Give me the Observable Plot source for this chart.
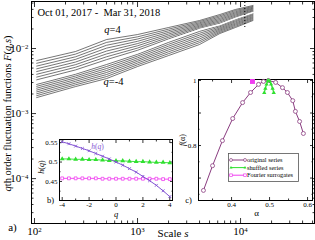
<!DOCTYPE html>
<html><head><meta charset="utf-8">
<script src="https://cdn.jsdelivr.net/npm/d3@7"></script>
<script src="https://cdn.jsdelivr.net/npm/@observablehq/plot@0.6"></script>
<style>
body{margin:0;background:#fff}
#wrap{position:relative;width:315px;height:240px;overflow:hidden}
#wrap svg{position:absolute;left:0;top:0}
</style></head><body><div id="wrap"></div>
<script>
// ---------- panel a) : fluctuation functions ----------
const scalesS = [105, 250, 500, 1000, 2000, 4000, 6300, 8900, 13200];
const qLines = [-4,-3.5,-3,-2.5,-2,-1.5,-1,-0.5,0,0.5,1,1.5,2,2.5,3,3.5,4];
const logF = [
  [-2.754,-2.585,-2.462,-2.277,-2.108,-1.938,-1.769,-1.677,-1.569],
  [-2.725,-2.558,-2.431,-2.250,-2.079,-1.909,-1.752,-1.660,-1.554],
  [-2.696,-2.531,-2.400,-2.223,-2.050,-1.881,-1.734,-1.642,-1.538],
  [-2.667,-2.504,-2.369,-2.196,-2.021,-1.852,-1.717,-1.625,-1.523],
  [-2.639,-2.477,-2.339,-2.170,-1.993,-1.823,-1.700,-1.608,-1.508],
  [-2.610,-2.450,-2.308,-2.143,-1.964,-1.794,-1.683,-1.590,-1.492],
  [-2.581,-2.423,-2.277,-2.116,-1.935,-1.766,-1.665,-1.573,-1.477],
  [-2.552,-2.396,-2.246,-2.089,-1.906,-1.737,-1.648,-1.555,-1.461],
  [-2.523,-2.369,-2.215,-2.062,-1.877,-1.708,-1.631,-1.538,-1.446],
  [-2.481,-2.329,-2.171,-2.027,-1.852,-1.691,-1.612,-1.521,-1.433],
  [-2.439,-2.288,-2.127,-1.993,-1.827,-1.673,-1.592,-1.504,-1.419],
  [-2.396,-2.248,-2.083,-1.958,-1.802,-1.656,-1.573,-1.486,-1.406],
  [-2.354,-2.208,-2.039,-1.924,-1.777,-1.639,-1.554,-1.469,-1.392],
  [-2.312,-2.167,-1.994,-1.889,-1.752,-1.621,-1.535,-1.452,-1.379],
  [-2.270,-2.127,-1.950,-1.854,-1.727,-1.604,-1.515,-1.435,-1.365],
  [-2.227,-2.086,-1.906,-1.820,-1.702,-1.586,-1.496,-1.417,-1.352],
  [-2.185,-2.046,-1.862,-1.785,-1.677,-1.569,-1.477,-1.400,-1.338]
];
const dottedScale = [11000];
const dottedF = [0.051, 0.021];
const xTicksMain = [100, 1000, 10000];
const yTicksMain = [1e-4, 1e-3, 1e-2];

// ---------- panel b) : h(q) ----------
const qVals = [-4,-3.5,-3,-2.5,-2,-1.5,-1,-0.5,0,0.5,1,1.5,2,2.5,3,3.5,4];
const hOrig = [0.552,0.547,0.541,0.535,0.529,0.522,0.515,0.508,0.500,0.492,0.483,0.474,0.463,0.452,0.440,0.426,0.411];
const hShuf = [0.508,0.508,0.507,0.507,0.506,0.506,0.505,0.504,0.503,0.503,0.502,0.501,0.501,0.500,0.499,0.499,0.498];
const hFour = [0.458,0.458,0.458,0.458,0.458,0.458,0.457,0.457,0.457,0.457,0.457,0.457,0.457,0.457,0.457,0.456,0.456];
const bXTicks = [-4,-2,0,2,4];
const bYTicks = [0.45, 0.5, 0.55];

// ---------- panel c) : f(alpha) ----------
const alphaOrig = [0.326,0.350,0.376,0.403,0.429,0.450,0.471,0.484,0.497,0.516,0.534,0.547,0.561,0.568,0.579,0.589];
const fOrig     = [0.662,0.738,0.815,0.883,0.932,0.963,0.988,0.997,1.000,0.994,0.978,0.963,0.938,0.905,0.874,0.837];
const alphaShuf = [0.486,0.489,0.492,0.496,0.500,0.504,0.508,0.511];
const fShuf     = [0.962,0.975,0.988,1.000,0.998,0.988,0.975,0.962];
const alphaFour = [0.455];
const fFour     = [0.997];
const cXTicks = [0.4, 0.5, 0.6];
const cYTicks = [0.8, 1.0];
const legendLabels = ["original series", "shuffled series", "Fourier surrogates"];

const cPurple = "#8a3c80", cViolet = "#8455d4", cGreen = "#2fe02f", cMagenta = "#f03cf0";
const FONT = "Liberation Serif, Times New Roman, serif";

// ---------- helpers ----------
function frameTicks(xMaj, xMin, yMaj, yMin, L, l) {
  const o = {fill: "none", label: null, strokeWidth: 0.8};
  return [
    Plot.axisX(xMaj, {...o, anchor: "bottom", tickSize: -L}),
    Plot.axisX(xMin, {...o, anchor: "bottom", tickSize: -l}),
    Plot.axisX(xMaj, {...o, anchor: "top", tickSize: -L}),
    Plot.axisX(xMin, {...o, anchor: "top", tickSize: -l}),
    Plot.axisY(yMaj, {...o, anchor: "left", tickSize: -L}),
    Plot.axisY(yMin, {...o, anchor: "left", tickSize: -l}),
    Plot.axisY(yMaj, {...o, anchor: "right", tickSize: -L}),
    Plot.axisY(yMin, {...o, anchor: "right", tickSize: -l})
  ];
}
function rich(svg, str, parts) {
  d3.select(svg).selectAll("text").filter(function () { return this.textContent === str && !this.querySelector("tspan"); })
    .each(function () {
      const el = d3.select(this); el.text("");
      parts.forEach(([t, it]) => { const ts = el.append("tspan").text(t); if (it) ts.attr("font-style", "italic"); });
    });
}
function supers(svg) {
  d3.select(svg).selectAll("text").each(function () {
    const m = this.textContent.match(/^10\^(-?\d+)$/);
    if (m && !this.querySelector("tspan")) {
      const el = d3.select(this); el.text("");
      el.append("tspan").text("10");
      el.append("tspan").attr("dy", "-0.5em").attr("font-size", "0.62em").text(m[1].replace("-", "\u2212"));
    }
  });
}
const expFmt = d => "10^" + Math.round(Math.log10(d));
const M = "middle";

// ---------- main plot ----------
const xDom = [93.5, 52200], yDom = [Math.pow(10, -4.69), Math.pow(10, -1.277)];
const xMinMain = [], yMinMain = [];
for (const d of [100, 1000, 10000]) for (let k = 2; k <= 9; k++) if (k * d <= xDom[1]) xMinMain.push(k * d);
for (const d of [1e-5, 1e-4, 1e-3, 1e-2]) for (let k = 2; k <= 9; k++) { const v = k * d; if (v >= yDom[0] && v <= yDom[1]) yMinMain.push(v); }

const rows = qLines.flatMap((q, i) => scalesS.map((s, j) => ({q, s, F: Math.pow(10, logF[i][j])})));

const main = Plot.plot({
  width: 315, height: 240, marginLeft: 31, marginRight: 1, marginTop: 1, marginBottom: 17,
  x: {type: "log", domain: xDom},
  y: {type: "log", domain: yDom},
  style: {fontFamily: FONT, fontSize: "11px", background: "white", color: "black"},
  marks: [
    Plot.line(rows.filter(d => d.q !== 0), {x: "s", y: "F", z: "q", stroke: "#1a1a1a", strokeWidth: 0.6}),
    Plot.line(rows.filter(d => d.q === 0), {x: "s", y: "F", stroke: "white", strokeWidth: 1.4}),
    Plot.ruleX(dottedScale, {x: d => d, y1: dottedF[0], y2: dottedF[1], stroke: "black", strokeWidth: 1, strokeDasharray: "1,2"}),
    Plot.frame({stroke: "black", strokeWidth: 1}),
    ...frameTicks(xTicksMain, xMinMain, yTicksMain, yMinMain, 5, 2.5),
    Plot.axisX(xTicksMain, {anchor: "bottom", tickSize: 0, tickPadding: 4, tickFormat: expFmt, label: null}),
    Plot.axisY(yTicksMain, {anchor: "left", tickSize: 0, tickPadding: 3, tickFormat: expFmt, label: null}),
    Plot.text(["qth order fluctuation functions F(q,s)"], {frameAnchor: "left", rotate: -90, textAnchor: M, lineAnchor: M, dx: -24, dy: 1, fontSize: 10.5}),
    Plot.text(["Scale s"], {frameAnchor: "bottom", textAnchor: M, dx: 0, dy: 10, lineAnchor: M, fontSize: 11}),
    Plot.text(["a)"], {frameAnchor: "bottom-left", textAnchor: M, dx: -19, dy: 4, lineAnchor: M, fontSize: 11}),
    Plot.text(["Oct 01, 2017 -  Mar 31, 2018"], {frameAnchor: "top-left", dx: 6, dy: 11, textAnchor: "start", lineAnchor: M, fontSize: 10.5}),
    Plot.text(["q=4"], {frameAnchor: "top-left", textAnchor: M, dx: 81, dy: 28, lineAnchor: M, fontSize: 10.5}),
    Plot.text(["q=-4"], {frameAnchor: "top-left", textAnchor: M, dx: 82, dy: 80, lineAnchor: M, fontSize: 10.5})
  ]
});

// ---------- inset b ----------
const bRows = qVals.map((q, i) => ({q, o: hOrig[i], s: hShuf[i], f: hFour[i]}));
const bInset = Plot.plot({
  width: 142, height: 88, marginLeft: 25, marginRight: 4, marginTop: 9, marginBottom: 18,
  x: {domain: [-4.2, 4.2]}, y: {domain: [0.401, 0.558]},
  style: {fontFamily: FONT, fontSize: "7px", background: "transparent", color: "black", overflow: "visible"},
  marks: [
    Plot.frame({stroke: "black", strokeWidth: 1, fill: "white"}),
    ...frameTicks(bXTicks, [-3, -1, 1, 3], bYTicks, [0.425, 0.475, 0.525], 3, 1.5),
    Plot.axisX(bXTicks, {anchor: "bottom", tickSize: 0, tickPadding: 1.5, label: null, tickFormat: d => String(d)}),
    Plot.axisY(bYTicks, {anchor: "left", tickSize: 0, tickPadding: 2, label: null, tickFormat: d => String(d)}),
    Plot.line(bRows, {x: "q", y: "f", stroke: cMagenta, strokeWidth: 0.9}),
    Plot.dot(bRows, {x: "q", y: "f", symbol: "square", r: 1.6, stroke: cMagenta, fill: "white", strokeWidth: 0.8}),
    Plot.line(bRows, {x: "q", y: "s", stroke: cGreen, strokeWidth: 0.9}),
    Plot.dot(bRows, {x: "q", y: "s", symbol: "triangle", r: 1.8, fill: cGreen, stroke: "none"}),
    Plot.line(bRows, {x: "q", y: "o", stroke: cViolet, strokeWidth: 1}),
    Plot.dot(bRows, {x: "q", y: "o", symbol: "times", r: 1.4, stroke: cViolet, strokeWidth: 0.9}),
    Plot.text(["h(q)"], {frameAnchor: "top-left", textAnchor: M, dx: 38, dy: 7, lineAnchor: M, fill: cViolet, fontSize: 7.5}),
    Plot.text(["h(q)"], {frameAnchor: "left", rotate: -90, textAnchor: M, lineAnchor: M, dx: -18, dy: -3, fontSize: 8}),
    Plot.text(["q"], {frameAnchor: "bottom", textAnchor: M, dx: 0, dy: 13.5, lineAnchor: M, fontSize: 8.5, fontStyle: "italic"}),
    Plot.text(["b)"], {frameAnchor: "bottom-left", textAnchor: M, dx: -9, dy: 0, lineAnchor: M, fontSize: 8.5})
  ]
});
bInset.style.left = "34px"; bInset.style.top = "130px";

// ---------- inset c ----------
const cOrig = alphaOrig.map((a, i) => ({a, f: fOrig[i]}));
const cShuf = alphaShuf.map((a, i) => ({a, f: fShuf[i]}));
const cFour = alphaFour.map((a, i) => ({a, f: fFour[i]}));
const cInset = Plot.plot({
  width: 145, height: 150, marginLeft: 28, marginRight: 3, marginTop: 9, marginBottom: 20,
  x: {domain: [0.313, 0.613]}, y: {domain: [0.631, 1.003]},
  style: {fontFamily: FONT, fontSize: "7px", background: "transparent", color: "black", overflow: "visible"},
  marks: [
    Plot.frame({stroke: "black", strokeWidth: 1, fill: "white"}),
    ...frameTicks(cXTicks, [0.35, 0.45, 0.55], [0.7, 0.8, 0.9, 1.0], [0.65, 0.75, 0.85, 0.95], 3, 1.5),
    Plot.axisX(cXTicks, {anchor: "bottom", tickSize: 0, tickPadding: 2, label: null, tickFormat: d => String(d)}),
    Plot.axisY(cYTicks, {anchor: "left", tickSize: 0, tickPadding: 2, label: null, tickFormat: d => String(d)}),
    Plot.line(cOrig, {x: "a", y: "f", stroke: cPurple, strokeWidth: 1}),
    Plot.dot(cOrig, {x: "a", y: "f", r: 2, stroke: cPurple, fill: "white", strokeWidth: 0.8}),
    Plot.line(cShuf, {x: "a", y: "f", stroke: cGreen, strokeWidth: 1.2}),
    Plot.dot(cShuf, {x: "a", y: "f", symbol: "triangle", r: 1.6, fill: cGreen, stroke: "none"}),
    Plot.dot(cFour, {x: "a", y: "f", symbol: "square", r: 2.8, fill: cMagenta, stroke: "none"}),
    Plot.text(["f(α)"], {frameAnchor: "left", rotate: -90, textAnchor: M, lineAnchor: M, dx: -16, dy: 0, fontSize: 8}),
    Plot.text(["α"], {frameAnchor: "bottom", textAnchor: M, dx: 1, dy: 13, lineAnchor: M, fontSize: 9}),
    Plot.text(["c)"], {frameAnchor: "bottom-left", textAnchor: M, dx: -10, dy: 0, lineAnchor: M, fontSize: 8.5})
  ]
});
cInset.style.left = "170px"; cInset.style.top = "70px";

// legend of inset c
(function () {
  const g = d3.select(cInset).append("g").attr("font-family", FONT).attr("text-anchor", "start").style("font-size", "6.3px");
  g.append("rect").attr("x", 58.5).attr("y", 83.5).attr("width", 70).attr("height", 28)
    .attr("fill", "white").attr("stroke", "#555").attr("stroke-width", 0.8);
  const cols = [cPurple, cGreen, cMagenta];
  legendLabels.forEach((lab, i) => {
    const y = 90 + i * 7.6;
    g.append("line").attr("x1", 61).attr("x2", 75).attr("y1", y).attr("y2", y).attr("stroke", cols[i]).attr("stroke-width", 1);
    [61, 75].forEach(x => {
      if (i === 0) g.append("circle").attr("cx", x).attr("cy", y).attr("r", 1.5).attr("fill", "white").attr("stroke", cols[i]).attr("stroke-width", 0.7);
      else if (i === 1) g.append("path").attr("d", `M${x},${y - 1.6}L${x + 1.5},${y + 1}L${x - 1.5},${y + 1}Z`).attr("fill", cols[i]);
      else g.append("rect").attr("x", x - 1.3).attr("y", y - 1.3).attr("width", 2.6).attr("height", 2.6).attr("fill", "white").attr("stroke", cols[i]).attr("stroke-width", 0.7);
    });
    g.append("text").attr("x", 77).attr("y", y).attr("dy", "0.33em").attr("text-anchor", "start").text(lab);
  });
})();

const wrap = document.getElementById("wrap");
wrap.appendChild(main); wrap.appendChild(bInset); wrap.appendChild(cInset);
main.style.left = "0px"; main.style.top = "0px";

supers(main);
rich(main, "qth order fluctuation functions F(q,s)", [["q", true], ["th order fluctuation functions ", false], ["F", true], ["(", false], ["q", true], [",", false], ["s", true], [")", false]]);
rich(main, "Scale s", [["Scale ", false], ["s", true]]);
rich(main, "q=4", [["q", true], ["=4", false]]);
rich(main, "q=-4", [["q", true], ["=-4", false]]);
rich(bInset, "h(q)", [["h", true], ["(", false], ["q", true], [")", false]]);
rich(cInset, "f(α)", [["f", true], ["(α)", false]]);
</script></body></html>
